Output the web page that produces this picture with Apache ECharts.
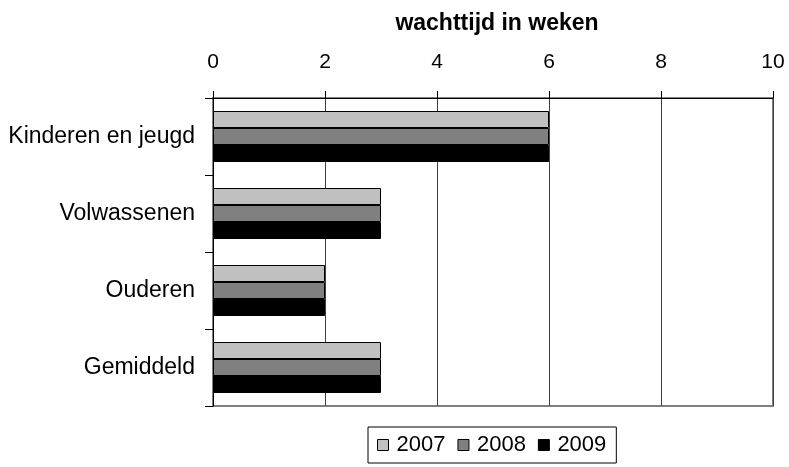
<!DOCTYPE html>
<html>
<head>
<meta charset="utf-8">
<script src="https://cdn.jsdelivr.net/npm/echarts@6/dist/echarts.min.js"></script>
<style>
html,body{margin:0;padding:0;background:#fff;}
#chart{width:789px;height:467px;}
</style>
</head>
<body>
<div id="chart"></div>
<script>
// wachttijd per groep
var categories = ["Kinderen en jeugd", "Volwassenen", "Ouderen", "Gemiddeld"];
var years = ["2007", "2008", "2009"];
var w2007 = [6, 3, 2, 3];
var w2008 = [6, 3, 2, 3];
var w2009 = [6, 3, 2, 3];
var xTicks = [0, 2, 4, 6, 8, 10];

var colors = ["#c0c0c0", "#808080", "#000000"];
var font = "Liberation Sans, Arial, sans-serif";

var chart = echarts.init(document.getElementById("chart"));

function barSeries(name, data, color) {
    return {
        name: name,
        type: "bar",
        data: data,
        barWidth: 17,
        barGap: "0%",
        itemStyle: {color: color, borderColor: "#000", borderWidth: 1},
        animation: false
    };
}

var option = {
    animation: false,
    title: {
        text: "wachttijd in weken",
        left: 492,
        textAlign: "center",
        top: 7,
        textStyle: {fontFamily: font, fontSize: 23, fontWeight: "bold", color: "#000"}
    },
    grid: {
        left: 213, right: 16, top: 98, bottom: 61,
        show: true, borderColor: "#808080", borderWidth: 2
    },
    legend: {
        data: years,
        left: 368,
        top: 427,
        padding: [7, 10, 7, 9],
        itemWidth: 11,
        itemHeight: 11,
        itemGap: 12,
        icon: "rect",
        borderColor: "#000",
        borderWidth: 1,
        itemStyle: {borderColor: "#000", borderWidth: 1},
        textStyle: {fontFamily: font, fontSize: 22, color: "#000", padding: [0, 0, 0, 3]}
    },
    xAxis: {
        type: "value",
        position: "top",
        min: xTicks[0],
        max: xTicks[xTicks.length - 1],
        interval: 2,
        axisLine: {show: true, lineStyle: {color: "#000", width: 1}},
        axisTick: {show: true, length: 7, lineStyle: {color: "#000"}},
        axisLabel: {fontFamily: font, fontSize: 21, color: "#000", margin: 25},
        splitLine: {show: true, lineStyle: {color: "#404040", width: 1}}
    },
    yAxis: {
        type: "category",
        data: categories,
        inverse: true,
        axisLine: {show: true, lineStyle: {color: "#000", width: 1}},
        axisTick: {show: true, length: 8, lineStyle: {color: "#000"}},
        axisLabel: {fontFamily: font, fontSize: 23, color: "#000", margin: 18}
    },
    series: [
        barSeries(years[0], w2007, colors[0]),
        barSeries(years[1], w2008, colors[1]),
        barSeries(years[2], w2009, colors[2])
    ]
};

chart.setOption(option);
</script>
</body>
</html>
